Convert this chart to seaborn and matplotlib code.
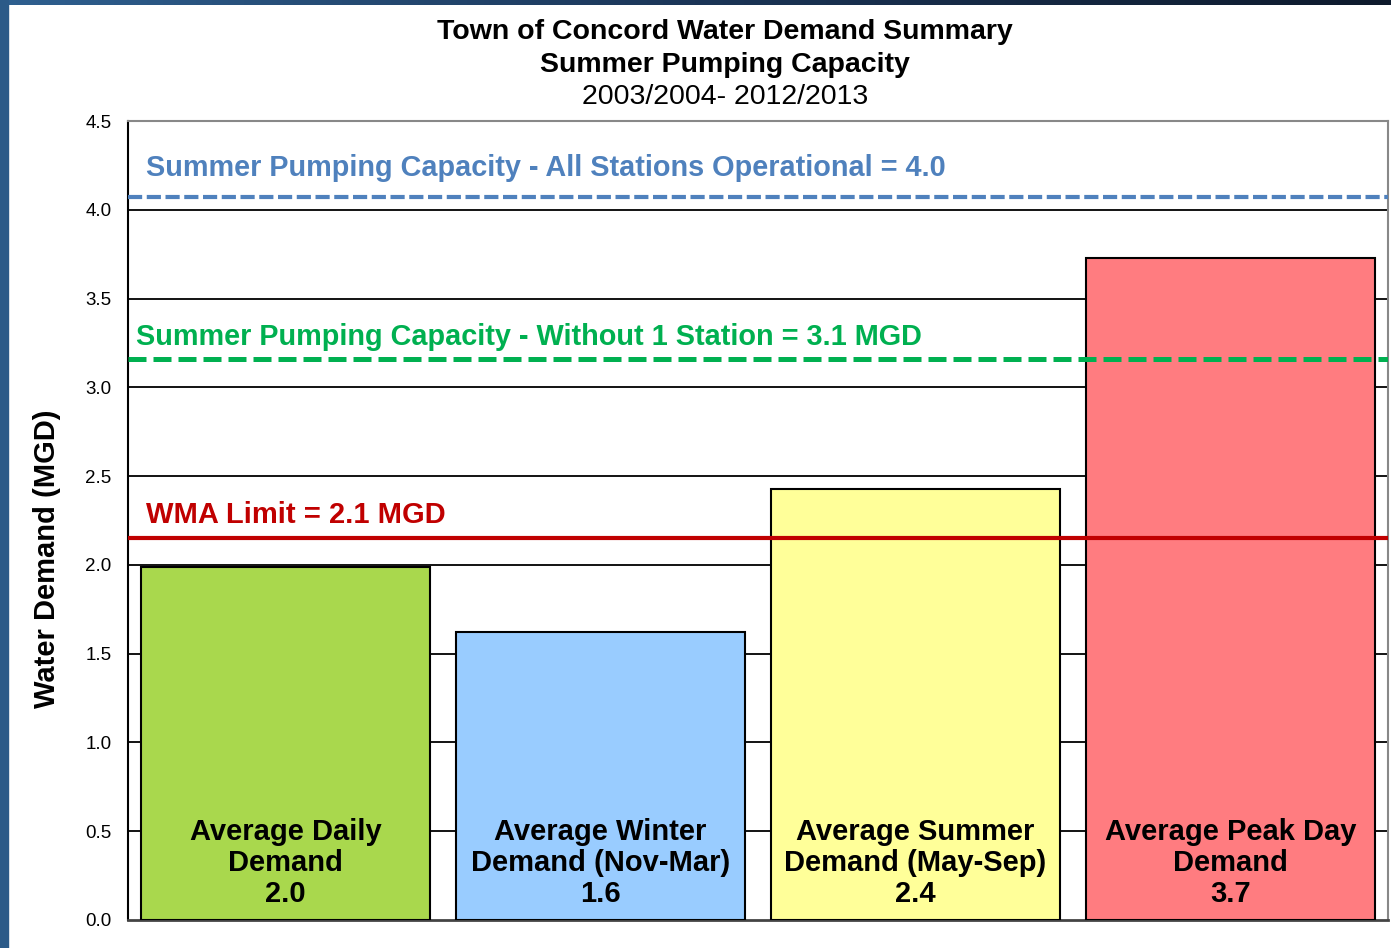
import numpy as np
import pandas as pd
import matplotlib
matplotlib.use("Agg")
import matplotlib.pyplot as plt
import seaborn as sns
from matplotlib.patches import Rectangle

# chart data
categories = ["Average Daily\nDemand", "Average Winter\nDemand (Nov-Mar)",
              "Average Summer\nDemand (May-Sep)", "Average Peak Day\nDemand"]
demand = [1.99, 1.62, 2.43, 3.73]
demand_labels = ["2.0", "1.6", "2.4", "3.7"]
bar_colors = ["#A9D84D", "#99CCFF", "#FFFF99", "#FF7C80"]

cap_all = 4.07
cap_without_one = 3.16
wma_limit = 2.15

sns.set_theme(style="white")
plt.rcParams['font.family'] = ['Liberation Sans', 'DejaVu Sans']
plt.rcParams['text.color'] = 'black'
plt.rcParams['axes.labelcolor'] = 'black'
plt.rcParams['ytick.color'] = 'black'

df = pd.DataFrame({"category": categories, "demand": demand})

fig = plt.figure(figsize=(13.91, 9.48), dpi=100)
ax = fig.add_axes([128/1391, 28/948, 1260/1391, 799/948])

sns.barplot(data=df, x="category", y="demand", hue="category",
            palette=bar_colors, saturation=1, width=0.92, edgecolor="black",
            linewidth=1.5, legend=False, ax=ax, zorder=3)

ax.set_xlim(-0.5, 3.5)
ax.set_ylim(0, 4.5)
ax.set_yticks(np.arange(0, 4.51, 0.5))
ax.set_yticklabels([f"{v:.1f}" for v in np.arange(0, 4.51, 0.5)], fontsize=13.5)
ax.set_xticks([])
ax.set_xlabel("")
ax.set_ylabel("Water Demand (MGD)", fontsize=21, fontweight="bold")
ax.yaxis.set_label_coords(-0.053, 0.452)
ax.tick_params(axis="y", direction="out", length=6, width=1.2, color="black", pad=6)

# gridlines behind the bars
for v in np.arange(0.5, 4.01, 0.5):
    ax.axhline(v, color="black", lw=1.3, zorder=1)

for side in ["top", "right"]:
    ax.spines[side].set_color("#888888")
    ax.spines[side].set_linewidth(1.5)
ax.spines["left"].set_color("black")
ax.spines["left"].set_linewidth(1.5)
ax.spines["bottom"].set_color("#444444")
ax.spines["bottom"].set_linewidth(2)

# reference lines
ax.axhline(cap_all, color="#4F81BD", lw=3, dashes=(3.4, 1.1), zorder=4)
ax.axhline(cap_without_one, color="#00B050", lw=3.6, dashes=(3.6, 1.4), zorder=4)
ax.axhline(wma_limit, color="#C00000", lw=3, zorder=4)

ax.text(-0.443, 4.234, "Summer Pumping Capacity - All Stations Operational = 4.0",
        color="#4F81BD", fontsize=20.8, fontweight="bold", va="center", ha="left", zorder=5)
ax.text(-0.475, 3.283, "Summer Pumping Capacity - Without 1 Station = 3.1 MGD",
        color="#00B050", fontsize=20.8, fontweight="bold", va="center", ha="left", zorder=5)
ax.text(-0.443, 2.28, "WMA Limit = 2.1 MGD",
        color="#C00000", fontsize=21, fontweight="bold", va="center", ha="left", zorder=5)

# labels inside bars
for i, (cat, lab) in enumerate(zip(categories, demand_labels)):
    ax.text(i, 0.321, cat + "\n" + lab, ha="center", va="center", color="black",
            fontsize=21, fontweight="bold", linespacing=1.14, zorder=5)

# title
fig.text(0.521, 1 - 32/948, "Town of Concord Water Demand Summary",
         ha="center", va="center", fontsize=20.5, fontweight="bold")
fig.text(0.521, 1 - 65/948, "Summer Pumping Capacity",
         ha="center", va="center", fontsize=20.5, fontweight="bold")
fig.text(0.521, 1 - 97/948, "2003/2004- 2012/2013",
         ha="center", va="center", fontsize=20.5)

# slide frame on the left and top
fig.patches.append(Rectangle((0, 0), 8/1391, 1, transform=fig.transFigure,
                             color="#2B5A88", zorder=10))
top = fig.add_axes([0, 1 - 5/948, 1, 5/948])
grad = np.linspace(0, 1, 256).reshape(1, -1)
top.imshow(grad, aspect="auto", cmap=matplotlib.colors.LinearSegmentedColormap.from_list(
    "frame", ["#2F6090", "#1B3557", "#0E1A2C"]))
top.axis("off")

fig.savefig("out.png", dpi=100)
